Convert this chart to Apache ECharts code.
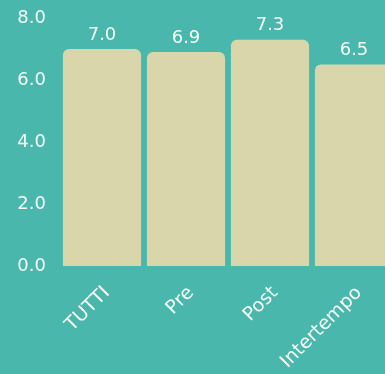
<!DOCTYPE html>
<html>
<head>
<meta charset="utf-8">
<script src="https://cdn.jsdelivr.net/npm/echarts@6/dist/echarts.min.js"></script>
<style>
  html, body { margin: 0; padding: 0; background: #4ab7ad; }
  #chart { width: 385px; height: 374px; }
</style>
</head>
<body>
<div id="chart"></div>
<script>
// dati del grafico
const categories = ['TUTTI', 'Pre', 'Post', 'Intertempo']
const values = [7.0, 6.9, 7.3, 6.5]

const myChart = echarts.init(document.getElementById('chart'))

const options = {
  backgroundColor: '#4ab7ad',
  textStyle: { fontFamily: 'DejaVu Sans' },
  grid: { left: 60, width: 336, top: 18, height: 248, outerBoundsMode: 'none' },
  xAxis: {
    type: 'category',
    data: categories,
    axisLine: { show: false },
    axisTick: { show: false },
    axisLabel: {
      rotate: 45,
      color: '#f4faf6',
      fontSize: 19,
      margin: 29,
      padding: [0, -7, 0, 0],
      interval: 0,
    },
  },
  yAxis: {
    type: 'value',
    min: 0,
    max: 8,
    interval: 2,
    splitLine: { show: false },
    axisLabel: {
      color: '#f4faf6',
      fontSize: 18,
      margin: 14,
      formatter: (v) => v.toFixed(1),
    },
  },
  series: [
    {
      type: 'bar',
      data: values,
      barCategoryGap: '7%',
      itemStyle: {
        color: '#d9d6ac',
        borderRadius: [6, 6, 0, 0],
      },
      label: {
        show: true,
        position: 'top',
        color: '#f4faf6',
        fontSize: 18,
        distance: 5,
        formatter: (p) => p.value.toFixed(1),
      },
    },
  ],
}
myChart.setOption(options)
</script>
</body>
</html>
